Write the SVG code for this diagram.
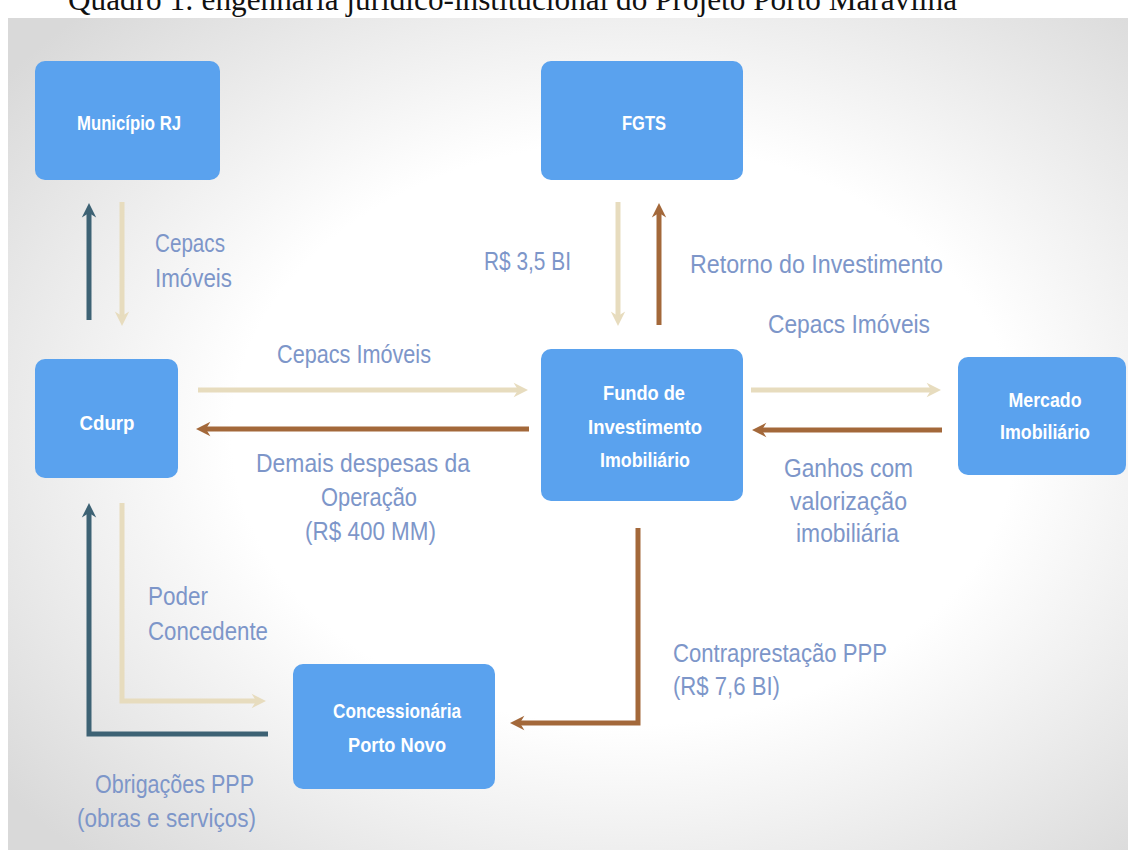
<svg xmlns="http://www.w3.org/2000/svg" width="1128" height="853" viewBox="0 0 1128 853">
<style>
.node rect{fill:#5AA2EE}
.nt{font-family:"Liberation Sans",Arial,sans-serif;font-weight:bold;font-size:21px;fill:#fff;text-anchor:middle}
.lb{font-family:"Liberation Sans",Arial,sans-serif;font-size:26px;fill:#7D96C9}
.dark{stroke:#3D6274;stroke-width:5;fill:none}
.beige{stroke:#E7DCBE;stroke-width:5;fill:none}
.brown{stroke:#A3683A;stroke-width:5;fill:none}
.title{font-family:"Liberation Serif","Times New Roman",serif;font-size:31px;fill:#111}
</style>
<defs>
<radialGradient id="bg" cx="55%" cy="50%" r="70%">
<stop offset="0.5" stop-color="#ffffff"/>
<stop offset="1" stop-color="#d9d9d9"/>
</radialGradient>
<marker id="mDark" markerUnits="userSpaceOnUse" viewBox="0 0 20 20" refX="8" refY="10" markerWidth="18" markerHeight="18" orient="auto"><path d="M2,2 L18,10 L2,18 L7,10 z" fill="#3D6274"/></marker>
<marker id="mBeige" markerUnits="userSpaceOnUse" viewBox="0 0 20 20" refX="8" refY="10" markerWidth="18" markerHeight="18" orient="auto"><path d="M2,2 L18,10 L2,18 L7,10 z" fill="#E7DCBE"/></marker>
<marker id="mBrown" markerUnits="userSpaceOnUse" viewBox="0 0 20 20" refX="8" refY="10" markerWidth="18" markerHeight="18" orient="auto"><path d="M2,2 L18,10 L2,18 L7,10 z" fill="#A3683A"/></marker>
</defs>
<rect width="1128" height="853" fill="#fff"/>
<text class="title" x="68" y="10" textLength="889" lengthAdjust="spacingAndGlyphs">Quadro 1: engenharia jurídico-institucional do Projeto Porto Maravilha</text>
<rect x="8" y="18" width="1120" height="832" fill="url(#bg)"/>

<g id="connectors">
<line class="dark" x1="89" y1="320" x2="89" y2="212" marker-end="url(#mDark)"/>
<line class="beige" x1="122" y1="202" x2="122" y2="317" marker-end="url(#mBeige)"/>
<line class="beige" x1="618" y1="202" x2="618" y2="317" marker-end="url(#mBeige)"/>
<line class="brown" x1="659" y1="325" x2="659" y2="212" marker-end="url(#mBrown)"/>
<line class="beige" x1="198" y1="390" x2="519" y2="390" marker-end="url(#mBeige)"/>
<line class="brown" x1="529" y1="429" x2="205" y2="429" marker-end="url(#mBrown)"/>
<line class="beige" x1="751" y1="390" x2="932" y2="390" marker-end="url(#mBeige)"/>
<line class="brown" x1="942" y1="430" x2="761" y2="430" marker-end="url(#mBrown)"/>
<path class="dark" d="M268,734 L89,734 L89,512" marker-end="url(#mDark)"/>
<path class="beige" d="M122,503 L122,701 L257,701" marker-end="url(#mBeige)"/>
<path class="brown" d="M638,528 L638,723 L519,723" marker-end="url(#mBrown)"/>
</g>

<g id="municipio" class="node"><rect x="35" y="61" width="185" height="119" rx="10"/><text class="nt" x="129" y="130" textLength="104" lengthAdjust="spacingAndGlyphs">Município RJ</text></g>
<g id="fgts" class="node"><rect x="541" y="61" width="202" height="119" rx="10"/><text class="nt" x="644" y="130" textLength="44" lengthAdjust="spacingAndGlyphs">FGTS</text></g>
<g id="cdurp" class="node"><rect x="35" y="359" width="143" height="119" rx="10"/><text class="nt" x="107" y="430" textLength="55" lengthAdjust="spacingAndGlyphs">Cdurp</text></g>
<g id="fundo" class="node"><rect x="541" y="349" width="202" height="152" rx="10"/><text class="nt" x="644" y="400" textLength="82" lengthAdjust="spacingAndGlyphs">Fundo de</text><text class="nt" x="645" y="434" textLength="114" lengthAdjust="spacingAndGlyphs">Investimento</text><text class="nt" x="645" y="467" textLength="90" lengthAdjust="spacingAndGlyphs">Imobiliário</text></g>
<g id="mercado" class="node"><rect x="958" y="357" width="168" height="118" rx="10"/><text class="nt" x="1045" y="407" textLength="73" lengthAdjust="spacingAndGlyphs">Mercado</text><text class="nt" x="1045" y="439" textLength="90" lengthAdjust="spacingAndGlyphs">Imobiliário</text></g>
<g id="concessionaria" class="node"><rect x="293" y="664" width="202" height="125" rx="10"/><text class="nt" x="397" y="718" textLength="128" lengthAdjust="spacingAndGlyphs">Concessionária</text><text class="nt" x="397" y="752" textLength="98" lengthAdjust="spacingAndGlyphs">Porto Novo</text></g>

<g id="labels">
<text class="lb" x="155" y="252" textLength="70" lengthAdjust="spacingAndGlyphs">Cepacs</text>
<text class="lb" x="155" y="287" textLength="77" lengthAdjust="spacingAndGlyphs">Imóveis</text>
<text class="lb" x="484" y="270" textLength="87" lengthAdjust="spacingAndGlyphs">R$ 3,5 BI</text>
<text class="lb" x="690" y="273" textLength="253" lengthAdjust="spacingAndGlyphs">Retorno do Investimento</text>
<text class="lb" x="768" y="333" textLength="162" lengthAdjust="spacingAndGlyphs">Cepacs  Imóveis</text>
<text class="lb" x="277" y="363" textLength="154" lengthAdjust="spacingAndGlyphs">Cepacs Imóveis</text>
<text class="lb" x="256" y="472" textLength="214" lengthAdjust="spacingAndGlyphs">Demais despesas da</text>
<text class="lb" x="321" y="506" textLength="96" lengthAdjust="spacingAndGlyphs">Operação</text>
<text class="lb" x="305" y="540" textLength="131" lengthAdjust="spacingAndGlyphs">(R$ 400 MM)</text>
<text class="lb" x="784" y="477" textLength="129" lengthAdjust="spacingAndGlyphs">Ganhos  com</text>
<text class="lb" x="790" y="510" textLength="117" lengthAdjust="spacingAndGlyphs">valorização</text>
<text class="lb" x="796" y="542" textLength="103" lengthAdjust="spacingAndGlyphs">imobiliária</text>
<text class="lb" x="148" y="605" textLength="60" lengthAdjust="spacingAndGlyphs">Poder</text>
<text class="lb" x="148" y="640" textLength="120" lengthAdjust="spacingAndGlyphs">Concedente</text>
<text class="lb" x="673" y="662" textLength="214" lengthAdjust="spacingAndGlyphs">Contraprestação PPP</text>
<text class="lb" x="673" y="695" textLength="107" lengthAdjust="spacingAndGlyphs">(R$ 7,6 BI)</text>
<text class="lb" x="95" y="793" textLength="159" lengthAdjust="spacingAndGlyphs">Obrigações PPP</text>
<text class="lb" x="77" y="827" textLength="179" lengthAdjust="spacingAndGlyphs">(obras e serviços)</text>
</g>
</svg>
